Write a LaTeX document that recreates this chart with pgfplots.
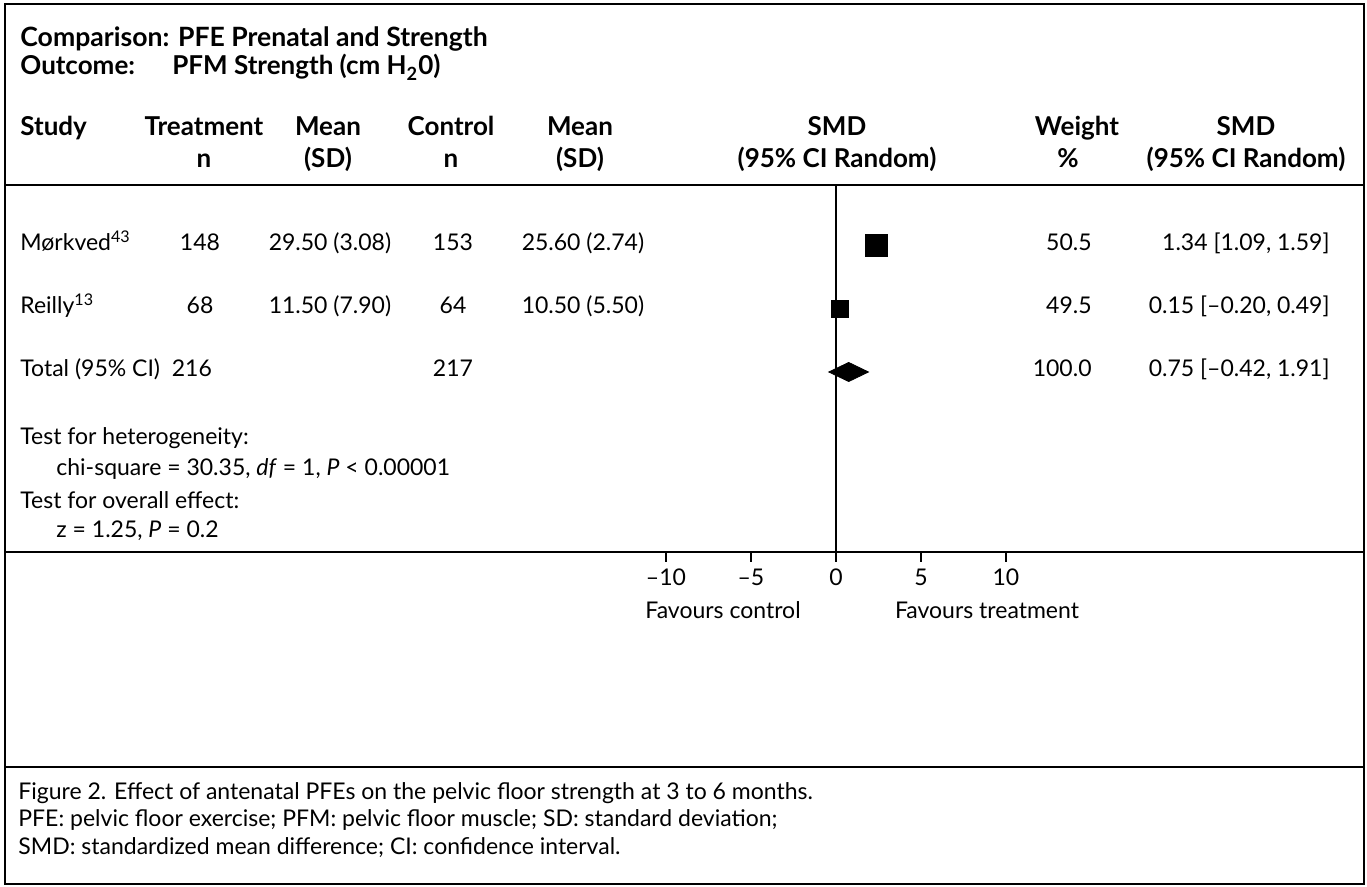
\documentclass[border=0pt]{standalone}
\usepackage{fontspec}
\setmainfont{Lato}
\usepackage{pgfplots}
\pgfplotsset{compat=1.18}

\begin{document}
\begin{tikzpicture}[x=0.5pt,y=-0.5pt, font=\fontsize{11.5}{13}\selectfont]
\useasboundingbox (0,0) rectangle (1367,887);
\draw[line width=1pt] (5,4) rectangle (1364,884);
\draw[line width=1pt] (5,185) -- (1364,185);
\draw[line width=1pt] (5,552) -- (1364,552);
\draw[line width=1pt] (5,767) -- (1364,767);

\begin{axis}[at={(2.5pt,-276pt)}, anchor=south west, scale only axis,
  width=679.5pt, height=183.5pt,
  xmin=-48.88, xmax=31.06, ymin=-5.835, ymax=-0.055,
  axis y line=none, axis x line*=bottom,
  x axis line style={-, line width=1pt},
  xtick={-10,-5,0,5,10}, xticklabels={–10,–5,0,5,10},
  tick align=outside, major tick length=5pt,
  tick style={line width=0.8pt, black},
  xticklabel style={font=\fontsize{11.5}{13}\selectfont},
  clip=false]
\addplot[only marks, mark=square*, mark size=5.5pt, black] coordinates {(2.35,-1)};
\addplot[only marks, mark=square*, mark size=4.25pt, black] coordinates {(0.25,-2)};
\addplot[fill=black, draw=black] coordinates {(-0.42,-3) (0.75,-2.85) (1.91,-3) (0.75,-3.15)} -- cycle;
\draw[line width=1pt] (axis cs:0,-5.835) -- (axis cs:0,-0.055);
\end{axis}

% titles
\begin{scope}[font=\fontsize{13}{15}\selectfont\bfseries]
\node[anchor=base west, inner sep=0] at (20,47) {\fontsize{13.3}{15}\selectfont Comparison: PFE Prenatal and Strength};
\node[anchor=base west, inner sep=0] at (20,75) {Outcome:};
\node[anchor=base west, inner sep=0] at (172,75) {PFM Strength (cm H\textsubscript{2}0)};
% headers
\node[anchor=base west, inner sep=0] at (20,136) {Study};
\node[anchor=base, inner sep=0] at (204,136) {Treatment};
\node[anchor=base, inner sep=0] at (204,168) {n};
\node[anchor=base, inner sep=0] at (328,136) {Mean};
\node[anchor=base, inner sep=0] at (328,168) {(SD)};
\node[anchor=base, inner sep=0] at (451,136) {Control};
\node[anchor=base, inner sep=0] at (451,168) {n};
\node[anchor=base, inner sep=0] at (580,136) {Mean};
\node[anchor=base, inner sep=0] at (580,168) {(SD)};
\node[anchor=base, inner sep=0] at (837,136) {SMD};
\node[anchor=base, inner sep=0] at (837,168) {(95\% CI Random)};
\node[anchor=base, inner sep=0] at (1077,136) {Weight};
\node[anchor=base, inner sep=0] at (1068,168) {\%};
\node[anchor=base, inner sep=0] at (1246,136) {SMD};
\node[anchor=base, inner sep=0] at (1246,168) {(95\% CI Random)};
\end{scope}

% rows
\node[anchor=base west, inner sep=0] at (20,251) {Mørkved\textsuperscript{43}};
\node[anchor=base, inner sep=0] at (200,251) {148};
\node[anchor=base, inner sep=0] at (330,251) {29.50 (3.08)};
\node[anchor=base, inner sep=0] at (453,251) {153};
\node[anchor=base, inner sep=0] at (583,251) {25.60 (2.74)};
\node[anchor=base east, inner sep=0] at (1092,251) {50.5};
\node[anchor=base east, inner sep=0] at (1330,251) {1.34 [1.09, 1.59]};

\node[anchor=base west, inner sep=0] at (20,314) {Reilly\textsuperscript{13}};
\node[anchor=base, inner sep=0] at (200,314) {68};
\node[anchor=base, inner sep=0] at (330,314) {11.50 (7.90)};
\node[anchor=base, inner sep=0] at (453,314) {64};
\node[anchor=base, inner sep=0] at (583,314) {10.50 (5.50)};
\node[anchor=base east, inner sep=0] at (1092,314) {49.5};
\node[anchor=base east, inner sep=0] at (1330,314) {0.15 [–0.20, 0.49]};

\node[anchor=base west, inner sep=0] at (20,377) {Total (95\% CI)\ \ 216};
\node[anchor=base, inner sep=0] at (453,377) {217};
\node[anchor=base east, inner sep=0] at (1092,377) {100.0};
\node[anchor=base east, inner sep=0] at (1330,377) {0.75 [–0.42, 1.91]};

\node[anchor=base west, inner sep=0] at (20,445) {Test for heterogeneity:};
\node[anchor=base west, inner sep=0] at (56,476) {chi-square = 30.35, \textit{df} = 1, \textit{P} < 0.00001};
\node[anchor=base west, inner sep=0] at (20,509) {Test for overall effect:};
\node[anchor=base west, inner sep=0] at (56,538) {z = 1.25, \textit{P} = 0.2};

\node[anchor=base, inner sep=0] at (723,619) {Favours control};
\node[anchor=base, inner sep=0] at (987,619) {Favours treatment};

\node[anchor=base west, inner sep=0] at (18,799) {Figure 2. Effect of antenatal PFEs on the pelvic floor strength at 3 to 6 months.};
\node[anchor=base west, inner sep=0] at (18,827) {PFE: pelvic floor exercise; PFM: pelvic floor muscle; SD: standard deviation;};
\node[anchor=base west, inner sep=0] at (18,855) {SMD: standardized mean difference; CI: confidence interval.};
\end{tikzpicture}
\end{document}
